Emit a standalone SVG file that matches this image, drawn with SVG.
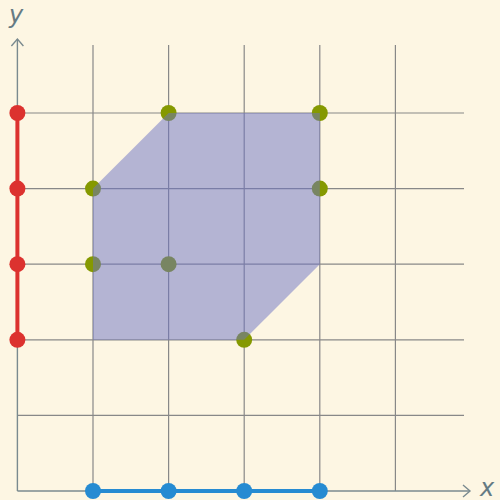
<svg xmlns="http://www.w3.org/2000/svg" width="500" height="500" viewBox="0 0 500 500">
<style>
.grid{stroke:#888;stroke-width:1.2;fill:none}
.axis{stroke:#7a8a8f;stroke-width:1.4;fill:none}
.lbl{font-family:"DejaVu Sans",sans-serif;font-style:italic;font-size:24px;fill:#657b83}
.g{fill:#859900}
.r{fill:#dc322f}
.b{fill:#268bd2}
</style>
<rect width="500" height="500" fill="#fdf6e3"/>
<g id="grid" class="grid">
<line x1="93" y1="45" x2="93" y2="491"/>
<line x1="168.6" y1="45" x2="168.6" y2="491"/>
<line x1="244.2" y1="45" x2="244.2" y2="491"/>
<line x1="319.8" y1="45" x2="319.8" y2="491"/>
<line x1="395.4" y1="45" x2="395.4" y2="491"/>
<line x1="17.4" y1="113" x2="464" y2="113"/>
<line x1="17.4" y1="188.6" x2="464" y2="188.6"/>
<line x1="17.4" y1="264.2" x2="464" y2="264.2"/>
<line x1="17.4" y1="339.8" x2="464" y2="339.8"/>
<line x1="17.4" y1="415.4" x2="464" y2="415.4"/>
</g>
<g id="axes" class="axis">
<line x1="17.4" y1="491" x2="17.4" y2="39"/>
<polyline points="11.4,46 17.4,39 23.4,46"/>
<line x1="17.4" y1="491" x2="470" y2="491"/>
<polyline points="463,485 470,491 463,497"/>
</g>
<text class="lbl" x="9" y="23">y</text>
<text class="lbl" x="480" y="496">x</text>
<g id="connectors">
<line x1="17.4" y1="113" x2="17.4" y2="339.8" stroke="#dc322f" stroke-width="4"/>
<line x1="93" y1="491" x2="319.8" y2="491" stroke="#268bd2" stroke-width="4"/>
</g>
<g id="red-points" class="r">
<circle cx="17.4" cy="113" r="8"/>
<circle cx="17.4" cy="188.6" r="8"/>
<circle cx="17.4" cy="264.2" r="8"/>
<circle cx="17.4" cy="339.8" r="8"/>
</g>
<g id="blue-points" class="b">
<circle cx="93" cy="491" r="8"/>
<circle cx="168.6" cy="491" r="8"/>
<circle cx="244.2" cy="491" r="8"/>
<circle cx="319.8" cy="491" r="8"/>
</g>
<g id="green-points" class="g">
<circle cx="168.6" cy="113" r="8"/>
<circle cx="319.8" cy="113" r="8"/>
<circle cx="93" cy="188.6" r="8"/>
<circle cx="319.8" cy="188.6" r="8"/>
<circle cx="93" cy="264.2" r="8"/>
<circle cx="168.6" cy="264.2" r="8"/>
<circle cx="244.2" cy="339.8" r="8"/>
</g>
<g id="polygon">
<polygon points="93,188.6 168.6,113 319.8,113 319.8,264.2 244.2,339.8 93,339.8" fill="#6c71c4" fill-opacity="0.5"/>
</g>
</svg>
